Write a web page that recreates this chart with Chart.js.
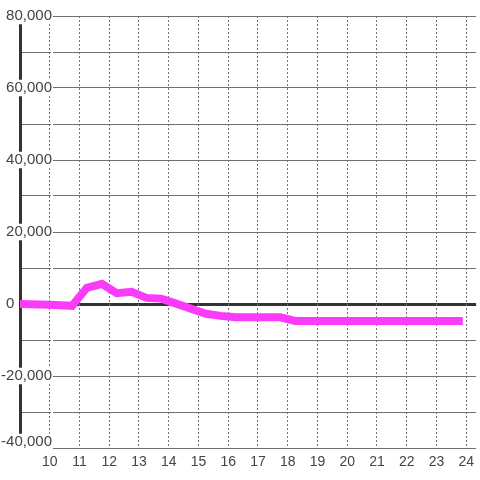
<!DOCTYPE html>
<html><head><meta charset="utf-8">
<script src="https://cdn.jsdelivr.net/npm/chart.js@4"></script>
<style>html,body{margin:0;padding:0;background:#fff}#wrap{width:480px;height:480px}</style>
</head><body><div id="wrap"><canvas id="c" width="480" height="480"></canvas></div>
<script>
const hours = [9, 10, 10.75, 11.25, 11.75, 12.25, 12.75, 13.25, 13.75, 14.25, 14.75, 15.25, 15.75, 16.25, 16.75, 17.25, 17.75, 18.25, 18.75, 19.25, 19.75, 20.25, 20.75, 21.25, 21.75, 22.25, 22.75, 23.25, 23.75];
const values = [0, -200, -500, 4500, 5600, 3000, 3400, 1700, 1500, 100, -1300, -2700, -3300, -3700, -3700, -3700, -3700, -4700, -4700, -4700, -4700, -4700, -4700, -4700, -4700, -4700, -4700, -4700, -4700];
const xTicks = [10, 11, 12, 13, 14, 15, 16, 17, 18, 19, 20, 21, 22, 23, 24];
const yTicks = [-40000, -30000, -20000, -10000, 0, 10000, 20000, 30000, 40000, 50000, 60000, 70000, 80000];
const yLabelled = [-40000, -20000, 0, 20000, 40000, 60000, 80000];

const FAMILY = '"Liberation Sans", Arial, sans-serif';
const Y_MIN = -40000, Y_MAX = 80000;

// lift the bottom y label a little above its grid line, as in the reference
const liftBottomLabel = {
  id: 'liftBottomLabel',
  beforeDraw(chart) {
    const s = chart.scales.y;
    const items = s.getLabelItems();
    const idx = s.ticks.findIndex(t => t.value === Y_MIN);
    const it = items[idx];
    if (it && !it._lifted) {
      it._lifted = true;
      it.textOffset -= 6;
      if (it.options.backdrop) it.options.backdrop.top -= 6;
    }
  }
};

new Chart(document.getElementById('c'), {
  type: 'line',
  data: {
    datasets: [{
      data: hours.map((h, i) => ({x: h, y: values[i]})),
      borderColor: '#fa3cfa',
      borderWidth: 8,
      borderCapStyle: 'square',
      pointRadius: 0,
      tension: 0,
      fill: false
    }]
  },
  options: {
    responsive: false,
    devicePixelRatio: 1,
    animation: false,
    layout: {padding: {left: 20, top: 16, right: 0, bottom: 0}},
    plugins: {legend: {display: false}, tooltip: {enabled: false}},
    scales: {
      y: {
        type: 'linear',
        min: Y_MIN, max: Y_MAX,
        afterBuildTicks: s => { s.ticks = yTicks.map(v => ({value: v})); },
        afterFit: s => { s.width = 0; },
        grid: {
          color: ctx => ctx.tick && ctx.tick.value === 0 ? '#333' : '#707070',
          lineWidth: ctx => ctx.tick && ctx.tick.value === 0 ? 3 : 1,
          drawTicks: false
        },
        border: {display: true, color: '#333', width: 3},
        ticks: {
          mirror: true,
          crossAlign: 'far',
          padding: -18.9,
          color: '#444',
          font: {family: FAMILY, size: 15, lineHeight: 1.1},
          showLabelBackdrop: ctx => ctx.tick.value !== 0,
          backdropColor: '#fff',
          backdropPadding: {left: 1, right: 1, top: 0, bottom: 0},
          callback: v => {
            if (!yLabelled.includes(v)) return '';
            if (v === 0) return '0         ';
            return v.toLocaleString('en-US');
          }
        }
      },
      x: {
        type: 'linear',
        min: 9, max: 9 + 460 / 30,
        afterBuildTicks: s => { s.ticks = xTicks.map(v => ({value: v})); },
        afterFit: s => { s.height = 32; },
        grid: {color: '#707070', lineWidth: 1, drawTicks: false},
        border: {display: false, dash: [2, 2]},
        ticks: {color: '#444', font: {family: FAMILY, size: 14}, padding: 6, maxRotation: 0, autoSkip: false, callback: v => String(v)}
      }
    }
  },
  plugins: [liftBottomLabel]
});
</script></body></html>
